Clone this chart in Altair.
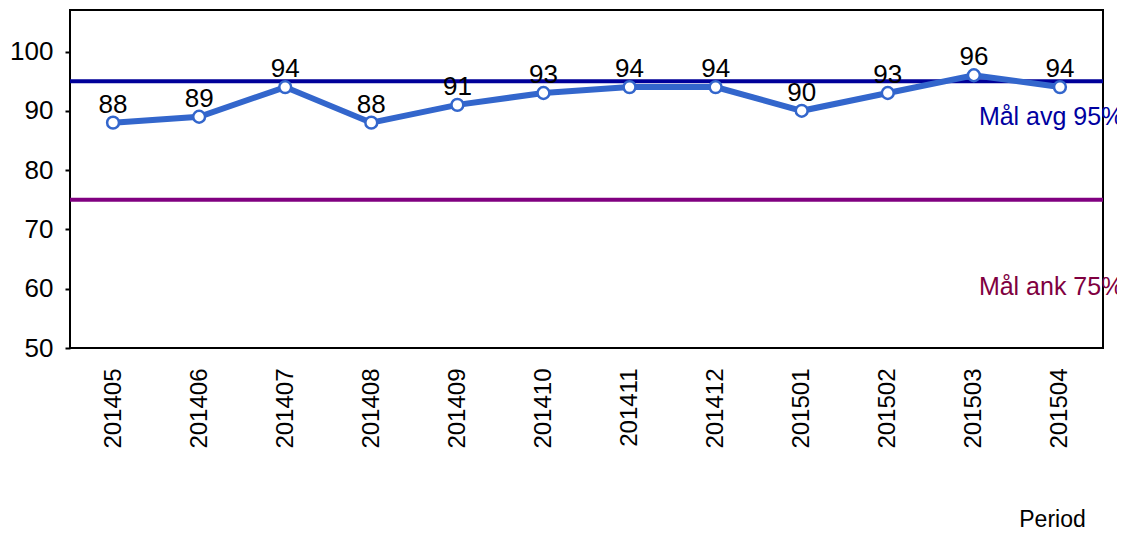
import altair as alt
import pandas as pd

periods = ["201405", "201406", "201407", "201408", "201409", "201410",
           "201411", "201412", "201501", "201502", "201503", "201504"]
values = [88, 89, 94, 88, 91, 93, 94, 94, 90, 93, 96, 94]

goal_values = [95, 75]
goal_colors = ["#000099", "#800080"]
goal_labels = ["Mål avg 95%", "Mål ank 75%"]
goal_label_y = [89, 60.3]
goal_label_colors = ["#0000A0", "#800040"]
goal_label_period = ["201503", "201503"]

FONT = "Liberation Sans"

df = pd.DataFrame({"period": periods, "value": values})
goals = pd.DataFrame({"value": goal_values, "color": goal_colors})
notes = pd.DataFrame({"period": goal_label_period, "y": goal_label_y,
                      "label": goal_labels, "color": goal_label_colors})

x_enc = alt.X("period:O", sort=periods,
              scale=alt.Scale(type="point", padding=0.5),
              axis=alt.Axis(labelAngle=270, ticks=False, domain=False,
                            labelPadding=20, labelFontSize=24, labelFont=FONT,
                            labelColor="black", title="Period", titleFont=FONT,
                            titleFontSize=23, titleFontWeight="normal",
                            titleColor="black", titleX=982, titleY=183,
                            titleAlign="center", titleBaseline="bottom"))
y_scale = alt.Scale(domain=[50, 107], nice=False, zero=False)

rules = alt.Chart(goals).mark_rule(strokeWidth=4).encode(
    y=alt.Y("value:Q", scale=y_scale),
    color=alt.Color("color:N", scale=None),
)

line = alt.Chart(df).mark_line(color="#3366CC", strokeWidth=6).encode(
    x=x_enc,
    y=alt.Y("value:Q", scale=y_scale,
            axis=alt.Axis(values=[50, 60, 70, 80, 90, 100], grid=False,
                          domain=False, tickColor="black", tickSize=5,
                          tickWidth=2, labelPadding=12, labelFontSize=26,
                          labelFont=FONT, labelColor="black", title=None)),
)

points = alt.Chart(df).mark_point(shape="circle", filled=False, fill="white",
                                  fillOpacity=1, color="#3366CC", size=140,
                                  strokeWidth=2.5, opacity=1).encode(
    x=alt.X("period:O", sort=periods),
    y=alt.Y("value:Q", scale=y_scale),
)

labels = alt.Chart(df).mark_text(font=FONT, fontSize=26, color="black",
                                 baseline="alphabetic", dy=-10).encode(
    x=alt.X("period:O", sort=periods),
    y=alt.Y("value:Q", scale=y_scale),
    text=alt.Text("value:Q"),
)

notes_layer = alt.Chart(notes).mark_text(font=FONT, fontSize=25, align="left",
                                         baseline="middle", dx=5).encode(
    x=alt.X("period:O", sort=periods),
    y=alt.Y("y:Q", scale=y_scale),
    text="label:N",
    color=alt.Color("color:N", scale=None),
)

chart = alt.layer(rules, line, points, labels, notes_layer).properties(
    width=1033, height=338,
    autosize=alt.AutoSizeParams(type="none"),
    padding={"left": 62, "top": 2, "right": 14, "bottom": 184},
).configure(background="white").configure_view(stroke="black", strokeWidth=2)

chart.save("out.html", embed_options={"renderer": "svg", "actions": False})
